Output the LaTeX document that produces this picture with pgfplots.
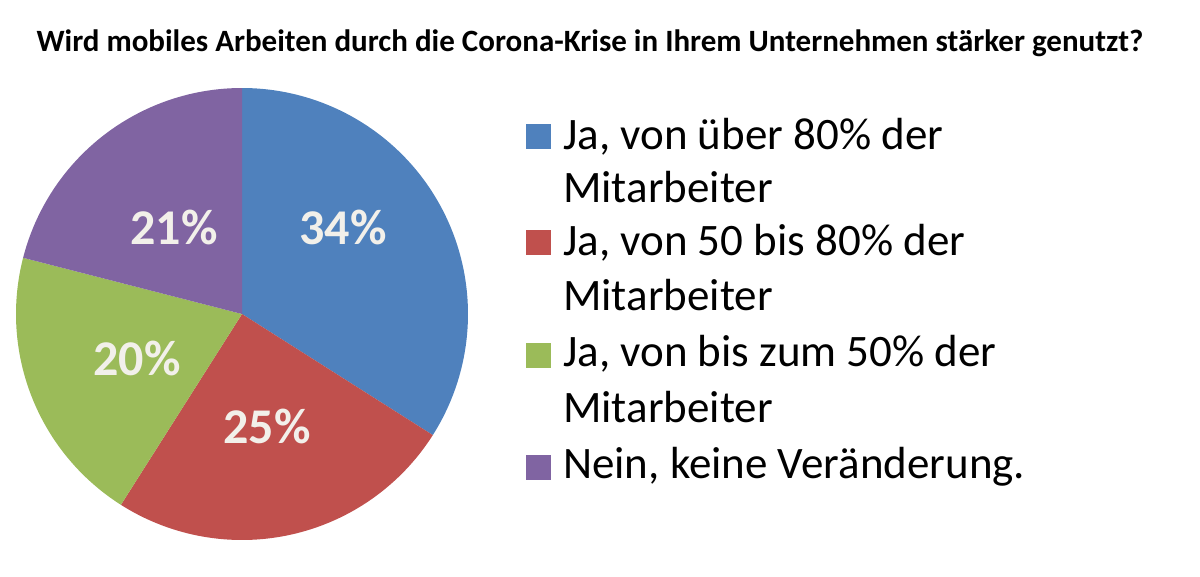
\documentclass[border=0pt]{standalone}
\usepackage{fontspec}
\setmainfont{Carlito}
\usepackage{pgfplots}
\pgfplotsset{compat=1.18}
\definecolor{pblue}{HTML}{4F81BD}
\definecolor{pred}{HTML}{C0504D}
\definecolor{pgreen}{HTML}{9BBB59}
\definecolor{ppurple}{HTML}{8064A2}
\definecolor{labelc}{HTML}{F2F0EA}
\begin{document}
\begin{tikzpicture}
\useasboundingbox (0pt,0pt) rectangle (1200pt,576pt);
% data (percent)
\def\vA{34}\def\vB{25}\def\vC{20}\def\vD{21}
\pgfmathsetmacro\aA{90}
\pgfmathsetmacro\aB{90-3.6*\vA}
\pgfmathsetmacro\aC{\aB-3.6*\vB}
\pgfmathsetmacro\aD{\aC-3.6*\vC}
\pgfmathsetmacro\aE{\aD-3.6*\vD}
\begin{axis}[at={(242pt,262pt)}, anchor=center, scale only axis,
  width=452pt, height=452pt, xmin=-1, xmax=1, ymin=-1, ymax=1,
  hide axis, clip=false]
\addplot[fill=pblue, draw=none, domain=\aB:\aA, samples=121, variable=\t] ({cos(\t)},{sin(\t)}) -- (axis cs:0,0) -- cycle;
\addplot[fill=pred, draw=none, domain=\aC:\aB, samples=121, variable=\t] ({cos(\t)},{sin(\t)}) -- (axis cs:0,0) -- cycle;
\addplot[fill=pgreen, draw=none, domain=\aD:\aC, samples=121, variable=\t] ({cos(\t)},{sin(\t)}) -- (axis cs:0,0) -- cycle;
\addplot[fill=ppurple, draw=none, domain=\aE:\aD, samples=121, variable=\t] ({cos(\t)},{sin(\t)}) -- (axis cs:0,0) -- cycle;
\begin{scope}[every node/.style={font=\bfseries\fontsize{50}{50}\selectfont, text=labelc}]
\node at (axis cs:0.447,0.385) {\vA\%};
\node at (axis cs:0.111,-0.496) {\vB\%};
\node at (axis cs:-0.465,-0.195) {\vC\%};
\node at (axis cs:-0.301,0.385) {\vD\%};
\end{scope}
\end{axis}
% title
\node[font=\bfseries\fontsize{31}{31}\selectfont, anchor=base, inner sep=0pt] at (590pt,524pt)
  {Wird mobiles Arbeiten durch die Corona-Krise in Ihrem Unternehmen stärker genutzt?};
% legend
\begin{scope}[every node/.style={font=\fontsize{45}{45}\selectfont, anchor=base west, inner sep=0pt}]
\node at (563pt,426pt) {Ja, von über 80\% der};
\node at (563pt,373pt) {Mitarbeiter};
\fill[pblue] (526pt,427pt) rectangle (551pt,452pt);
\node at (563pt,320pt) {Ja, von 50 bis 80\% der};
\node at (563pt,265pt) {Mitarbeiter};
\fill[pred] (526pt,321pt) rectangle (551pt,346pt);
\node at (563pt,209pt) {Ja, von bis zum 50\% der};
\node at (563pt,153pt) {Mitarbeiter};
\fill[pgreen] (526pt,208pt) rectangle (551pt,233pt);
\node at (563pt,97pt) {Nein, keine Veränderung.};
\fill[ppurple] (526pt,96pt) rectangle (551pt,121pt);
\end{scope}
\end{tikzpicture}
\end{document}
